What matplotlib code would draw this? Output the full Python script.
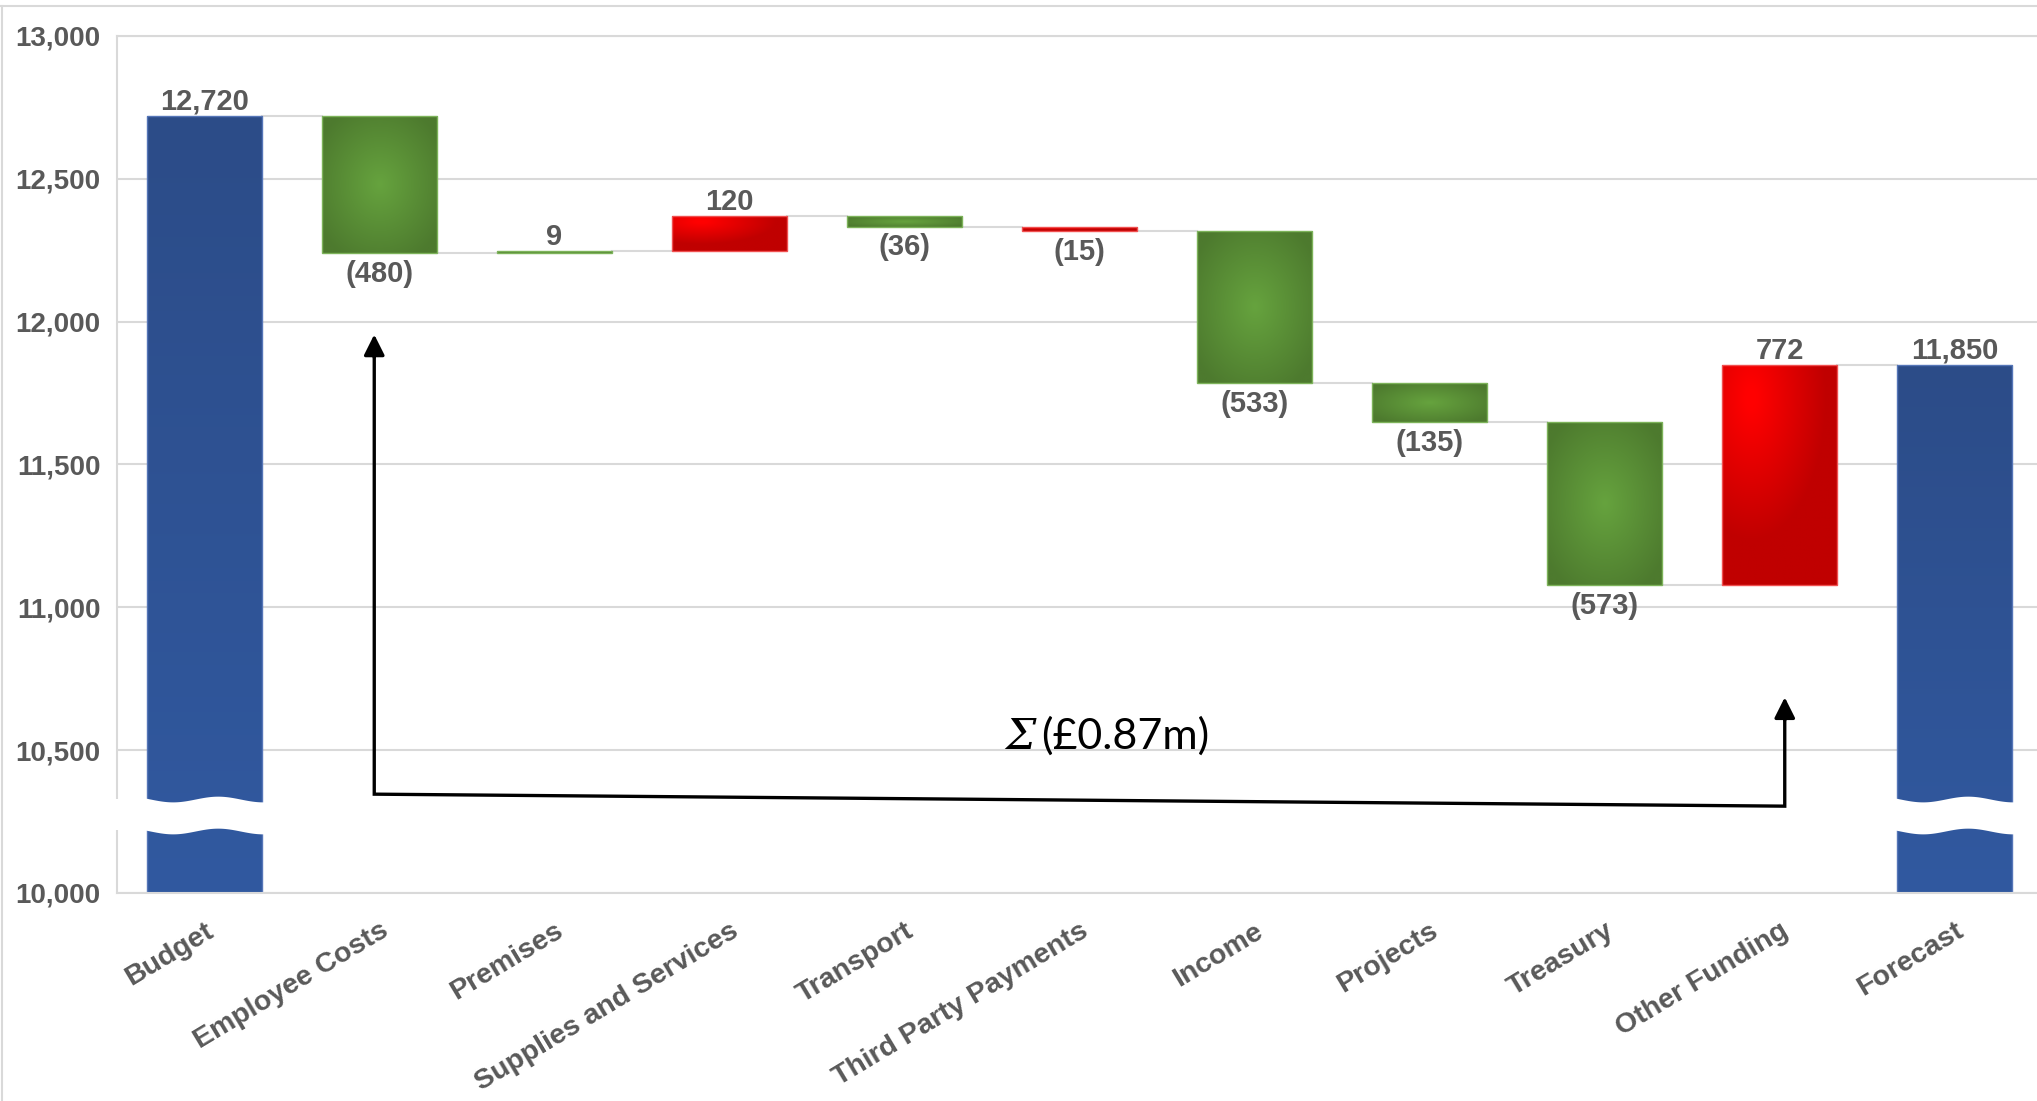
import numpy as np
import matplotlib
matplotlib.use("Agg")
import matplotlib.pyplot as plt
from matplotlib.colors import to_rgb
from matplotlib.lines import Line2D
from matplotlib.patches import Rectangle
import matplotlib.transforms as mtransforms

# ---------------- data ----------------
categories = ["Budget", "Employee Costs", "Premises", "Supplies and Services", "Transport",
              "Third Party Payments", "Income", "Projects", "Treasury", "Other Funding", "Forecast"]
budget_value = 12720
change_values = [-480, 9, 120, -36, -15, -533, -135, -573, 772]
forecast_value = 11850
bar_kind = ["total", "green", "green", "red", "green", "red", "green", "green", "green", "red", "total"]
bar_labels = ["12,720", "(480)", "9", "120", "(36)", "(15)", "(533)", "(135)", "(573)", "772", "11,850"]
y_ticks = [10000, 10500, 11000, 11500, 12000, 12500, 13000]
sum_label = "(£0.87m)"

# ---------------- styling constants ----------------
Y_MIN, Y_MAX = 10000, 13000
BAR_W = 0.66
GRID_C = "#D9D9D9"
TXT_C = "#595959"
LABEL_FONT = "Liberation Sans"
BREAK_LO, BREAK_HI = 10217, 10329

W, H = 2037, 1101
fig = plt.figure(figsize=(W / 100, H / 100), dpi=100)
ax = fig.add_axes([117 / W, 1 - 893 / H, 1925 / W, 857 / H])
ax.set_xlim(-0.5, 10.5)
ax.set_ylim(Y_MIN, Y_MAX)

# compute bar geometry
bottoms, heights, levels = [], [], []
bottoms.append(Y_MIN); heights.append(budget_value - Y_MIN)
running = budget_value
levels.append(running)
for c in change_values:
    start, end = running, running + c
    bottoms.append(min(start, end)); heights.append(abs(c))
    running = end
    levels.append(running)
bottoms.append(Y_MIN); heights.append(forecast_value - Y_MIN)

x = np.arange(len(categories))
base_col = {"total": "#2E5090", "green": "#5A8F36", "red": "#E00000"}
edge_col = {"total": "#5676B8", "green": "#7DB35A", "red": "#F05050"}
bars = ax.bar(x, heights, bottom=bottoms, width=BAR_W,
              color=[base_col[k] for k in bar_kind], linewidth=0, zorder=2)


def gradient(kind, n=120):
    yy, xx = np.mgrid[0:1:n * 1j, 0:1:n * 1j]
    if kind == "total":
        c0, c1 = np.array(to_rgb("#3159A0")), np.array(to_rgb("#2C4C88"))
        t = yy[..., None]
    elif kind == "green":
        d = np.sqrt((xx - 0.5) ** 2 + (yy - 0.5) ** 2) / np.sqrt(0.5)
        c0, c1 = np.array(to_rgb("#66A33E")), np.array(to_rgb("#4D7A2E"))
        t = np.clip(d * 1.15, 0, 1)[..., None]
    else:
        d = np.sqrt((xx - 0.25) ** 2 + (yy - 0.85) ** 2)
        c0, c1 = np.array(to_rgb("#FF0000")), np.array(to_rgb("#C00000"))
        t = np.clip((d - 0.05) / 0.6, 0, 1)[..., None]
    return c0 + (c1 - c0) * t


for patch, kind in zip(bars.patches, bar_kind):
    x0, y0 = patch.get_x(), patch.get_y()
    w, h = patch.get_width(), patch.get_height()
    im = ax.imshow(gradient(kind), extent=(x0, x0 + w, y0, y0 + h), origin="lower",
                   aspect="auto", interpolation="bilinear", zorder=2.05)
    im.set_clip_path(patch)

ax.bar(x, heights, bottom=bottoms, width=BAR_W, fill=False,
       edgecolor=[edge_col[k] for k in bar_kind], linewidth=1.0, zorder=2.2)
ax.set_xlim(-0.5, 10.5)
ax.set_ylim(Y_MIN, Y_MAX)

# connectors
for i in range(len(categories) - 1):
    lvl = levels[i] if i < len(levels) else forecast_value
    ax.plot([x[i] + BAR_W / 2, x[i + 1] - BAR_W / 2], [lvl, lvl], color=GRID_C, lw=1.5, zorder=1.5)

# value labels
for i, (kind, lab) in enumerate(zip(bar_kind, bar_labels)):
    negative = kind != "total" and change_values[i - 1] < 0
    if negative:
        ax.annotate(lab, (x[i], bottoms[i]), xytext=(0, -5), textcoords="offset points",
                    ha="center", va="top", fontsize=21, fontweight="bold",
                    family=LABEL_FONT, color=TXT_C, zorder=4)
    else:
        ax.annotate(lab, (x[i], bottoms[i] + heights[i]), xytext=(0, 0), textcoords="offset points",
                    ha="center", va="bottom", fontsize=21, fontweight="bold",
                    family=LABEL_FONT, color=TXT_C, zorder=4)

# axis break on total bars
for i, kind in enumerate(bar_kind):
    if kind != "total":
        continue
    xs = np.linspace(x[i] - BAR_W / 2 - 0.01, x[i] + BAR_W / 2 + 0.01, 200)
    p = (xs - (x[i] - BAR_W / 2)) / BAR_W
    wave = -10 * np.sin(2 * np.pi * (p - 0.03) / 0.78)
    ax.fill_between(xs, BREAK_LO + wave, BREAK_HI + wave, color="white", lw=0, zorder=3)

# grid / spines / ticks
ax.set_axisbelow(True)
ax.yaxis.grid(True, color=GRID_C, lw=1.5)
ax.set_yticks(y_ticks)
ax.set_yticklabels([f"{v:,}" for v in y_ticks], fontsize=20, fontweight="bold",
                   family=LABEL_FONT, color=TXT_C)
ax.set_xticks(x)
ax.set_xticklabels(categories, rotation=31, ha="right", va="top", rotation_mode="anchor",
                   fontsize=20.5, fontweight="bold", family=LABEL_FONT, color=TXT_C)
offset = mtransforms.ScaledTranslation(6 / 72, 0, fig.dpi_scale_trans)
for lbl in ax.get_xticklabels():
    lbl.set_transform(lbl.get_transform() + offset)
ax.tick_params(axis="y", length=0, pad=12)
ax.tick_params(axis="x", length=0, pad=18)
for s in ["left", "top", "bottom"]:
    ax.spines[s].set_color(GRID_C)
    ax.spines[s].set_linewidth(1.5)
ax.spines["right"].set_visible(False)

# gap in left spine
ax.add_patch(Rectangle((-0.01, BREAK_LO + 5), 0.02, BREAK_HI - BREAK_LO - 5,
                       transform=mtransforms.blended_transform_factory(ax.transAxes, ax.transData),
                       facecolor="white", edgecolor="none", clip_on=False, zorder=5))

# sum arrow annotation
xl, xr = x[1] - 0.03, x[9] + 0.03
top_l, base_l, base_r, top_r = 11955, 10346, 10304, 10685
ax.plot([xl, xl, xr, xr], [top_l - 60, base_l, base_r, top_r - 60], color="black", lw=2.4,
        solid_joinstyle="miter", zorder=6)
for xa, ya in [(xl, top_l), (xr, top_r)]:
    ax.annotate("", xy=(xa, ya), xytext=(xa, ya - 80),
                arrowprops=dict(arrowstyle="-|>,head_length=0.5,head_width=0.25", color="black",
                                lw=2.4, mutation_scale=25, shrinkA=0, shrinkB=0), zorder=6)
ax.text(4.75, 10505, "Σ", ha="right", va="baseline", fontsize=31, style="italic",
        family=["DejaVu Serif"], color="black", zorder=6)
ax.text(4.78, 10505, sum_label, ha="left", va="baseline", fontsize=31,
        family=["Lato", "DejaVu Sans"], color="black", zorder=6)

# outer chart border
fig.add_artist(Line2D([0, 1], [1 - 6 / H, 1 - 6 / H], transform=fig.transFigure, color=GRID_C, lw=1.5))
fig.add_artist(Line2D([1.5 / W, 1.5 / W], [0, 1 - 6 / H], transform=fig.transFigure, color=GRID_C, lw=1.5))

fig.savefig("out.png", dpi=100, facecolor="white")
